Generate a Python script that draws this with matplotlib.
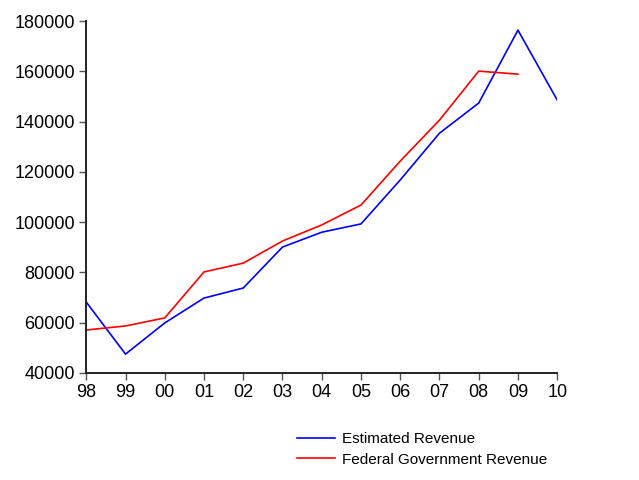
import matplotlib.pyplot as plt

plt.rcParams['font.family'] = ['Liberation Sans', 'DejaVu Sans']

years = list(range(1998, 2011))
year_labels = ["98", "99", "00", "01", "02", "03", "04", "05", "06", "07", "08", "09", "10"]

# Estimated Revenue
estimated = [68200, 47500, 59900, 69800, 73800, 90100, 96000, 99300,
             116800, 135400, 147400, 176400, 148600]
# Federal Government Revenue (ends 2009)
federal = [57100, 58700, 61900, 80200, 83700, 92500, 98900, 106800,
           124300, 140600, 160100, 158900]

fig = plt.figure(figsize=(6.39, 4.8), dpi=100)
ax = fig.add_axes([0.135, 0.223, 0.737, 0.733])

ax.plot(years, estimated, color="#0000ff", lw=1.2, label="Estimated Revenue")
ax.plot(years[:len(federal)], federal, color="#ff0000", lw=1.2,
        label="Federal Government Revenue")

ax.set_xlim(1998, 2010)
ax.set_ylim(40000, 180000)
ax.set_xticks(years)
ax.set_xticklabels(year_labels)
ax.set_yticks(range(40000, 180001, 20000))
ax.tick_params(labelsize=13, length=5, width=1, color="#555555", pad=3)

for side in ("top", "right"):
    ax.spines[side].set_visible(False)
for side in ("left", "bottom"):
    ax.spines[side].set_linewidth(1.4)
    ax.spines[side].set_color("#222222")

fig.legend(loc="upper left", bbox_to_anchor=(0.455, 0.113), frameon=False,
           fontsize=11, handlelength=2.5, handletextpad=0.45,
           labelspacing=0.45, borderaxespad=0)

fig.savefig("out.png", dpi=100)
